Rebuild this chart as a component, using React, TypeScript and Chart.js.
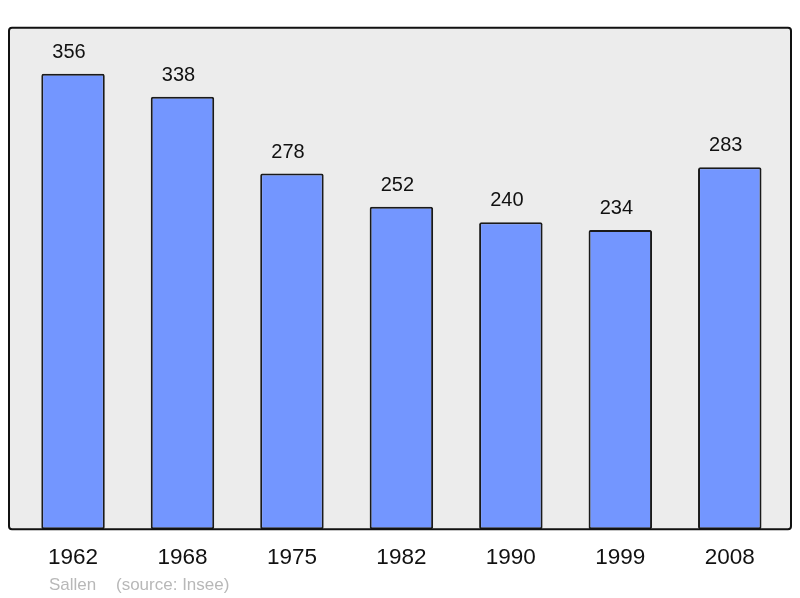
import React, { useEffect, useRef } from "react";
import { Chart, registerables } from "chart.js";

Chart.register(...registerables);

const years = ["1962", "1968", "1975", "1982", "1990", "1999", "2008"];
const population = [356, 338, 278, 252, 240, 234, 283];
const footerName = "Sallen";
const footerSource = "(source: Insee)";

const FONT = '"Liberation Sans", Arial, sans-serif';

const framePlugin = {
  id: "frame",
  beforeDraw(chart: any) {
    const { ctx, chartArea } = chart;
    const x0 = chartArea.left - 9.3;
    const x1 = chartArea.right + 6.5;
    const y0 = chartArea.top;
    const y1 = chartArea.bottom;
    ctx.save();
    ctx.fillStyle = "#ececec";
    ctx.beginPath();
    ctx.roundRect(x0, y0, x1 - x0, y1 - y0, 3);
    ctx.fill();
    ctx.restore();
  },
  afterDatasetsDraw(chart: any) {
    const { ctx, chartArea } = chart;
    const x0 = chartArea.left - 9.3;
    const x1 = chartArea.right + 6.5;
    const y0 = chartArea.top;
    const y1 = chartArea.bottom;
    ctx.save();
    ctx.strokeStyle = "#111111";
    ctx.lineWidth = 2;
    ctx.beginPath();
    ctx.roundRect(x0, y0, x1 - x0, y1 - y0, 3);
    ctx.stroke();

    // value labels
    const meta = chart.getDatasetMeta(0);
    ctx.fillStyle = "#111111";
    ctx.font = `20px ${FONT}`;
    ctx.textAlign = "center";
    ctx.textBaseline = "middle";
    meta.data.forEach((bar: any, i: number) => {
      ctx.fillText(String(population[i]), bar.x - 4, bar.y - 21.5);
    });

    // footer
    ctx.fillStyle = "#b8b8b8";
    ctx.font = `17px ${FONT}`;
    ctx.textAlign = "left";
    ctx.fillText(footerName, 49, 585);
    ctx.fillText(footerSource, 116, 585);
    ctx.restore();
  },
};

export default function App() {
  const ref = useRef<HTMLCanvasElement | null>(null);
  useEffect(() => {
    if (!ref.current) return;
    const chart = new Chart(ref.current, {
      type: "bar",
      data: {
        labels: years,
        datasets: [
          {
            data: population,
            backgroundColor: "#7396ff",
            borderColor: "#1a1a1a",
            borderWidth: 2,
            borderRadius: 2,
            borderSkipped: false,
            barPercentage: 0.58,
            categoryPercentage: 1,
          },
        ],
      },
      options: {
        animation: false,
        responsive: false,
        maintainAspectRatio: false,
        layout: { padding: { left: 18.3, right: 15.5, top: 27.7, bottom: 12.3 } },
        plugins: { legend: { display: false }, tooltip: { enabled: false } },
        scales: {
          x: {
            grid: { display: false, drawTicks: false },
            border: { display: false },
            ticks: {
              color: "#111111",
              font: { family: FONT, size: 22.5 },
              padding: 14.7,
              maxRotation: 0,
            },
          },
          y: {
            display: false,
            min: 0,
            max: 392,
          },
        },
      },
      plugins: [framePlugin],
    });
    return () => chart.destroy();
  }, []);
  return (
    <div style={{ position: "fixed", left: 0, top: 0, width: 800, height: 598, background: "#ffffff" }}>
      <canvas ref={ref} width={800} height={598} style={{ width: 800, height: 598, display: "block" }} />
    </div>
  );
}
